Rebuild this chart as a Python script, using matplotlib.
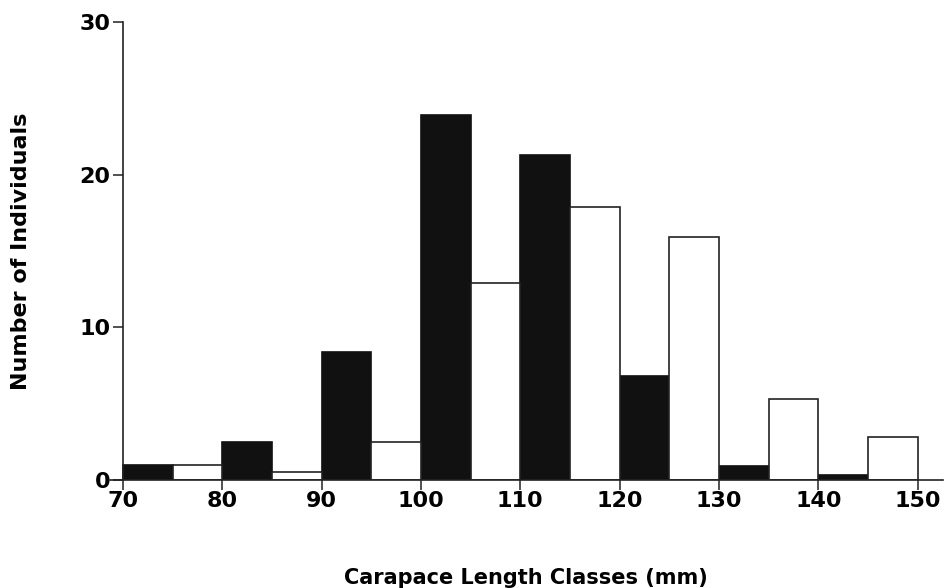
import matplotlib.pyplot as plt

plt.rcParams["font.family"] = ["DejaVu Sans"]
plt.rcParams["font.weight"] = "bold"

# 5 mm classes, alternating filled / open bars
black_starts = [70, 80, 90, 100, 110, 120, 130, 140]
black_counts = [1, 2.5, 8.4, 23.9, 21.3, 6.8, 0.9, 0.3]
white_starts = [75, 85, 95, 105, 115, 125, 135, 145]
white_counts = [1, 0.5, 2.5, 12.9, 17.9, 15.9, 5.3, 2.8]

x_ticks = [70, 80, 90, 100, 110, 120, 130, 140, 150]
y_ticks = [0, 10, 20, 30]

fig = plt.figure(figsize=(9.45, 5.88), dpi=100)
ax = fig.add_axes([0.1164, 0.1837, 0.881, 0.779])

ax.bar(black_starts, black_counts, width=5, align="edge",
       color="#111111", edgecolor="#111111", linewidth=1.2)
ax.bar(white_starts, white_counts, width=5, align="edge",
       color="white", edgecolor="#222222", linewidth=1.2)

ax.set_xlim(68.7, 152.5)
ax.set_ylim(0, 30)
ax.spines["top"].set_visible(False)
ax.spines["right"].set_visible(False)
ax.spines["left"].set_position(("data", 70))
ax.spines["left"].set_bounds(0, 30)
for s in ("left", "bottom"):
    ax.spines[s].set_linewidth(1.2)
    ax.spines[s].set_color("#222222")

ax.set_xticks(x_ticks)
ax.set_xticklabels([str(t) for t in x_ticks], fontsize=16, fontweight="bold")
ax.set_yticks(y_ticks)
ax.set_yticklabels([str(t) for t in y_ticks], fontsize=16, fontweight="bold")
ax.tick_params(axis="both", direction="out", width=1.1, color="#222222")
ax.tick_params(axis="x", length=7, pad=1)
ax.tick_params(axis="y", length=7.5, pad=1.5)

ax.set_xlabel("Carapace Length Classes (mm)", fontsize=15,
              fontweight="bold", labelpad=41)
ax.set_ylabel("Number of Individuals", fontsize=16,
              fontweight="bold", labelpad=35)

fig.savefig("out.png", dpi=100)
